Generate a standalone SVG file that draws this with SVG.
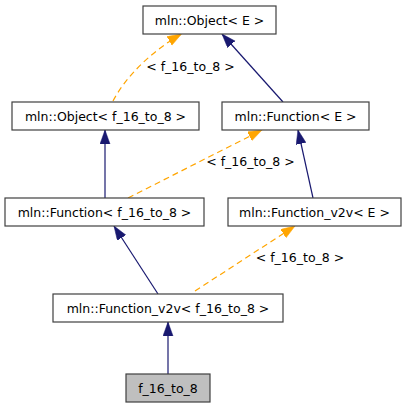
<svg xmlns="http://www.w3.org/2000/svg" width="408" height="408" viewBox="0 0 408 408">
<style>
.node rect{fill:#ffffff;stroke:#404040;stroke-width:1.2}
.node.cur rect{fill:#bfbfbf}
text{font-family:"DejaVu Sans","Liberation Sans",sans-serif;font-size:12.5px;fill:#000000}
.node text{text-anchor:middle}
.lbl{text-anchor:middle}
.inh{fill:none;stroke:#191970;stroke-width:1.2;marker-end:url(#ab)}
.tpl{fill:none;stroke:#ffa500;stroke-width:1.2;stroke-dasharray:6,4;marker-end:url(#ao)}
</style>
<defs>
<marker id="ab" markerUnits="userSpaceOnUse" markerWidth="15" markerHeight="11" refX="14" refY="5" orient="auto">
<path d="M0,0 L14,5 L0,10 z" fill="#191970" stroke="#191970" stroke-width="0.5"/>
</marker>
<marker id="ao" markerUnits="userSpaceOnUse" markerWidth="15" markerHeight="11" refX="14" refY="5" orient="auto">
<path d="M0,0 L14,5 L0,10 z" fill="#ffa500" stroke="#ffa500" stroke-width="0.5"/>
</marker>
</defs>
<rect width="408" height="408" fill="#ffffff"/>
<g id="connectors">
<path class="tpl" d="M113,101 C125,78 150,52 181.5,34"/>
<line class="inh" x1="283" y1="102" x2="222" y2="34"/>
<line class="inh" x1="105" y1="198" x2="105" y2="130"/>
<line class="tpl" x1="128" y1="198" x2="262" y2="130"/>
<line class="inh" x1="313" y1="198" x2="298" y2="130"/>
<line class="inh" x1="158" y1="294" x2="114" y2="226"/>
<line class="tpl" x1="195" y1="291" x2="295" y2="226"/>
<line class="inh" x1="168" y1="374" x2="168" y2="322"/>
<text class="lbl" x="190.5" y="70.5">&lt; f_16_to_8 &gt;</text>
<text class="lbl" x="250.5" y="166">&lt; f_16_to_8 &gt;</text>
<text class="lbl" x="300" y="262">&lt; f_16_to_8 &gt;</text>
</g>
<g id="n_object_e" class="node"><rect x="143" y="6" width="133" height="28"/><text x="209.5" y="24.5">mln::Object&lt; E &gt;</text></g>
<g id="n_object_f" class="node"><rect x="12" y="102" width="187" height="28"/><text x="105.5" y="120.5">mln::Object&lt; f_16_to_8 &gt;</text></g>
<g id="n_function_e" class="node"><rect x="222" y="102" width="147" height="28"/><text x="295.5" y="120.5">mln::Function&lt; E &gt;</text></g>
<g id="n_function_f" class="node"><rect x="5" y="198" width="199" height="28"/><text x="104.5" y="216.5">mln::Function&lt; f_16_to_8 &gt;</text></g>
<g id="n_v2v_e" class="node"><rect x="228" y="198" width="173" height="28"/><text x="314.5" y="216.5">mln::Function_v2v&lt; E &gt;</text></g>
<g id="n_v2v_f" class="node"><rect x="53" y="294" width="230" height="28"/><text x="168" y="312.5">mln::Function_v2v&lt; f_16_to_8 &gt;</text></g>
<g id="n_f16" class="node cur"><rect x="126" y="374" width="84" height="28"/><text x="168" y="392.5">f_16_to_8</text></g>
</svg>
